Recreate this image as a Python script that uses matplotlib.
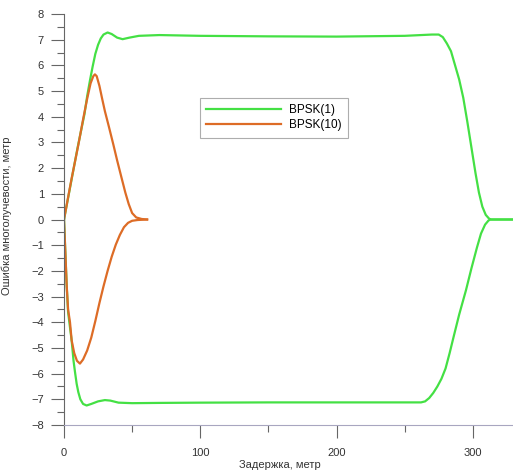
import matplotlib
matplotlib.use("Agg")
import matplotlib.pyplot as plt
from matplotlib.ticker import MultipleLocator

plt.rcParams['font.family'] = ['Liberation Sans', 'DejaVu Sans']

# BPSK(1) envelopes
b1_up_x = [0, 5, 10, 15, 17, 19, 21, 23, 25, 27, 29, 32, 35, 39, 43, 48, 55, 70, 100, 150, 200, 250, 270,
           275, 278, 281, 284, 287, 290, 293, 296, 299, 302, 304.5, 307, 309.5, 312, 313.5, 329.5]
b1_up_y = [0, 1.4, 2.8, 4.1, 4.8, 5.4, 5.95, 6.45, 6.8, 7.05, 7.2, 7.28, 7.22, 7.08, 7.02, 7.08, 7.15, 7.18,
           7.15, 7.13, 7.12, 7.15, 7.2, 7.2, 7.1, 6.85, 6.55, 6.0, 5.45, 4.74, 3.8, 2.8, 1.8, 1.05, 0.5,
           0.18, 0.03, 0, 0]
b1_lo_x = [0, 1, 2, 3, 4.4, 5.6, 7, 8.1, 9.3, 10.5, 12, 14, 16.6, 20, 25, 30, 34, 40, 50, 70, 100, 150,
           200, 250, 262, 265, 268, 271, 274, 277, 280, 283, 286, 290, 295, 299, 303, 306, 309, 311.5, 313,
           329.5]
b1_lo_y = [0, -1.3, -2.6, -3.6, -4.2, -4.7, -5.5, -5.95, -6.4, -6.72, -7.0, -7.18, -7.24, -7.18, -7.08,
           -7.03, -7.05, -7.13, -7.15, -7.14, -7.13, -7.12, -7.12, -7.12, -7.12, -7.08, -6.95, -6.75, -6.5,
           -6.2, -5.8, -5.2, -4.55, -3.7, -2.75, -1.9, -1.1, -0.55, -0.2, -0.04, 0, 0]

# BPSK(10) envelopes
b10_up_x = [0, 5.6, 10.5, 14.2, 17, 19.5, 21.5, 22.7, 24, 26, 28, 30, 33, 36.2, 39, 42.3, 45, 47.5, 50, 53,
            57, 61]
b10_up_y = [0, 1.6, 2.9, 3.95, 4.7, 5.3, 5.58, 5.65, 5.58, 5.2, 4.7, 4.22, 3.6, 2.92, 2.3, 1.61, 1.05, 0.6,
            0.25, 0.08, 0.02, 0]
b10_lo_x = [0, 1, 2, 3, 4.4, 5.6, 7.5, 9.5, 11.7, 14, 17, 20, 23, 26, 29, 32, 35, 38, 41, 44, 47, 50, 54,
            61]
b10_lo_y = [0, -1.3, -2.6, -3.5, -4.0, -4.7, -5.2, -5.5, -5.61, -5.45, -5.1, -4.6, -3.95, -3.25, -2.6,
            -2.0, -1.45, -0.98, -0.6, -0.3, -0.13, -0.05, -0.02, 0]

labels = ['BPSK(1)', 'BPSK(10)']
colors = ['#44e044', '#dd6c26']

fig = plt.figure(figsize=(5.13, 4.70), dpi=100)
ax = fig.add_axes([64/513, 1-425/470, 1-64/513, (425-14)/470])

ax.plot(b1_up_x, b1_up_y, color=colors[0], lw=1.6, label=labels[0])
ax.plot(b1_lo_x, b1_lo_y, color=colors[0], lw=1.6)
ax.plot(b10_up_x, b10_up_y, color=colors[1], lw=1.6, label=labels[1])
ax.plot(b10_lo_x, b10_lo_y, color=colors[1], lw=1.6)

ax.set_xlim(0, 329.5)
ax.set_ylim(-8, 8)
ax.xaxis.set_major_locator(MultipleLocator(100))
ax.xaxis.set_minor_locator(MultipleLocator(50))
ax.yaxis.set_major_locator(MultipleLocator(1))
ax.yaxis.set_minor_locator(MultipleLocator(0.5))

for s in ['top', 'right']:
    ax.spines[s].set_visible(False)
ax.spines['left'].set_color('#666666')
ax.spines['bottom'].set_color('#a8a6c0')
ax.tick_params(axis='both', which='major', direction='out', length=9.5, width=0.8,
               colors='#666666', labelcolor='#333333', labelsize=8, pad=5)
ax.tick_params(axis='both', which='minor', direction='out', length=5, width=0.8, colors='#666666')
ax.tick_params(axis='x', which='major', pad=7)

ax.set_xlabel('Задержка, метр', fontsize=8, color='#333333')
ax.xaxis.set_label_coords((280-64)/449, -(460-425)/411)
ax.set_ylabel('Ошибка многолучевости, метр', fontsize=8, color='#333333')
ax.yaxis.set_label_coords(-(64-12)/449, 0.51)

leg = ax.legend(loc='upper left', bbox_to_anchor=((200-64)/449, 1-(98-14)/411),
                fontsize=8.5, frameon=True, fancybox=False, edgecolor='#999999',
                handlelength=6.3, borderpad=0.55, labelspacing=0.25, handletextpad=0.7,
                borderaxespad=0)
leg.get_frame().set_linewidth(0.8)

fig.savefig('out.png', dpi=100)
